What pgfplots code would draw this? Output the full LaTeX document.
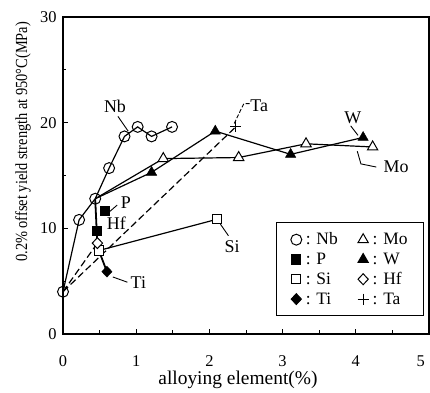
\documentclass[border=0pt]{standalone}
\usepackage{pgfplots}
\pgfplotsset{compat=1.18}
\usepackage{fontspec}
\setmainfont{Liberation Serif}
\begin{document}
\begin{tikzpicture}
\path[use as bounding box] (-63bp,-59bp) rectangle (367bp,334bp);
\begin{axis}[
 at={(0,0)}, anchor=south west,
 width=366bp, height=317bp, scale only axis,
 xmin=0,xmax=5,ymin=0,ymax=30,
 xtick={0,1,2,3,4,5}, ytick={0,10,20,30},
 xticklabels={0,1,2,3,4,{\makebox[0pt][r]{5}\hphantom{5}}},
 minor x tick num=1, minor y tick num=1,
 tick align=inside, xtick pos=bottom, ytick pos=left,
 major tick length=5bp, minor tick length=3.5bp,
 axis line style={line width=1.3pt},
 every tick/.style={line width=0.9pt, black},
 /pgf/number format/assume math mode=true,
 tick label style={font=\fontsize{16.5}{18}\selectfont},
 xticklabel style={yshift=-18bp},
 yticklabel style={xshift=-3bp},
 xlabel={alloying element(\%)},
 xlabel style={at={(axis description cs:0.478,-0.145)}, anchor=center, font=\fontsize{19.5}{22}\selectfont},
 ylabel={0.2\% offset yield strength at 950°C(MPa)},
 ylabel style={at={(axis description cs:-0.109,0.606)}, anchor=center, font=\fontsize{17}{19}\selectfont, xscale=0.85},
 legend columns=2,
 legend cell align=left,
 legend style={at={(axis cs:4.93,1.7)}, anchor=south east, draw=black, line width=0.9pt,
   font=\fontsize{17.5}{19}\selectfont, inner xsep=14pt, inner ysep=8pt,
   /tikz/every even column/.append style={column sep=18pt},
   /tikz/every odd column/.append style={column sep=2pt},
   row sep=2.5pt},
]
% lines
\addplot[forget plot, line width=1.2pt] coordinates {(0,4) (0.22,10.8) (0.44,12.8) (0.63,15.7) (0.84,18.7) (1.02,19.6) (1.21,18.7) (1.49,19.6)};
\addplot[forget plot, line width=1.2pt] coordinates {(0.44,12.8) (1.37,16.6) (2.40,16.7) (3.32,18.0) (4.23,17.7)};
\addplot[forget plot, line width=1.2pt] coordinates {(0.44,12.8) (1.21,15.3) (2.08,19.2) (3.11,17.0) (4.10,18.6)};
\addplot[forget plot, line width=1.8pt] coordinates {(0.44,12.8) (0.46,9.8) (0.47,8.6) (0.49,7.9) (0.60,5.9)};
\addplot[forget plot, line width=1.2pt] coordinates {(0.49,7.9) (2.10,10.85)};
\addplot[forget plot, line width=1.2pt, dash pattern=on 7pt off 3.5pt] coordinates {(0,4) (0.47,8.6)};
\addplot[forget plot, line width=1.2pt, dash pattern=on 7pt off 3.5pt] coordinates {(0,4) (2.36,19.6)};
% marks
\addplot[forget plot, only marks, mark=o, mark size=5.5pt, mark options={fill=white, line width=1pt}] coordinates {(0,4) (0.22,10.8) (0.44,12.8) (0.63,15.7) (0.84,18.7) (1.02,19.6) (1.21,18.7) (1.49,19.6)};
\addplot[forget plot, only marks, mark=triangle*, mark size=6pt, mark options={fill=white, line width=1pt}] coordinates {(1.37,16.6) (2.40,16.7) (3.32,18.0) (4.23,17.7)};
\addplot[forget plot, only marks, mark=triangle*, mark size=6pt, mark options={fill=black}] coordinates {(1.21,15.3) (2.08,19.2) (3.11,17.0) (4.10,18.6)};
\addplot[forget plot, only marks, mark=square*, mark size=4.6pt, mark options={fill=white, line width=1pt}] coordinates {(0.49,7.9) (2.10,10.85)};
\addplot[forget plot, only marks, mark=diamond*, mark size=5.5pt, mark options={fill=white, line width=1pt, xscale=1.25}] coordinates {(0.47,8.6)};
\addplot[forget plot, only marks, mark=square*, mark size=4.6pt, mark options={fill=black}] coordinates {(0.46,9.8) (0.575,11.7)};
\addplot[forget plot, only marks, mark=diamond*, mark size=5.5pt, mark options={fill=black, xscale=1.25}] coordinates {(0.60,5.9)};
\addplot[forget plot, only marks, mark=+, mark size=5.5pt, mark options={line width=1.1pt}] coordinates {(2.36,19.6)};
% legend
\addlegendimage{only marks, mark=o, mark size=5.5pt, mark options={fill=white, line width=1pt}}
\addlegendentry{: Nb}
\addlegendimage{only marks, mark=triangle*, mark size=6pt, mark options={fill=white, line width=1pt}}
\addlegendentry{: Mo}
\addlegendimage{only marks, mark=square*, mark size=4.6pt, mark options={fill=black}}
\addlegendentry{: P}
\addlegendimage{only marks, mark=triangle*, mark size=6pt, mark options={fill=black}}
\addlegendentry{: W}
\addlegendimage{only marks, mark=square*, mark size=4.6pt, mark options={fill=white, line width=1pt}}
\addlegendentry{: Si}
\addlegendimage{only marks, mark=diamond*, mark size=5.5pt, mark options={fill=white, line width=1pt, xscale=1.25}}
\addlegendentry{: Hf}
\addlegendimage{only marks, mark=diamond*, mark size=5.5pt, mark options={fill=black, xscale=1.25}}
\addlegendentry{: Ti}
\addlegendimage{only marks, mark=+, mark size=5.5pt, mark options={line width=1.1pt}}
\addlegendentry{: Ta}
% annotations
\begin{scope}[font=\fontsize{18}{20}\selectfont]
\node at (axis cs:0.71,21.5) {Nb};
\draw[line width=0.9pt] (axis cs:0.75,20.6) -- (axis cs:0.89,19.2);
\node at (axis cs:2.68,21.6) {Ta};
\draw[line width=0.9pt, dash pattern=on 4pt off 2pt] (axis cs:2.55,21.8) -- (axis cs:2.47,21.8) -- (axis cs:2.33,19.8);
\node at (axis cs:3.96,20.5) {W};
\draw[line width=0.9pt] (axis cs:3.93,19.7) -- (axis cs:4.03,18.8);
\node at (axis cs:4.55,15.8) {Mo};
\draw[line width=0.9pt] (axis cs:4.02,17.3) -- (axis cs:4.07,16.1) -- (axis cs:4.28,15.8);
\node at (axis cs:0.86,12.4) {P};
\draw[line width=0.9pt] (axis cs:0.74,12.2) -- (axis cs:0.64,11.6);
\node at (axis cs:0.73,10.5) {Hf};
\node at (axis cs:1.03,4.9) {Ti};
\draw[line width=0.9pt] (axis cs:0.68,5.4) -- (axis cs:0.88,4.9);
\node at (axis cs:2.31,8.3) {Si};
\draw[line width=0.9pt] (axis cs:2.15,10.4) -- (axis cs:2.26,9.3);
\end{scope}
\end{axis}
\end{tikzpicture}
\end{document}
